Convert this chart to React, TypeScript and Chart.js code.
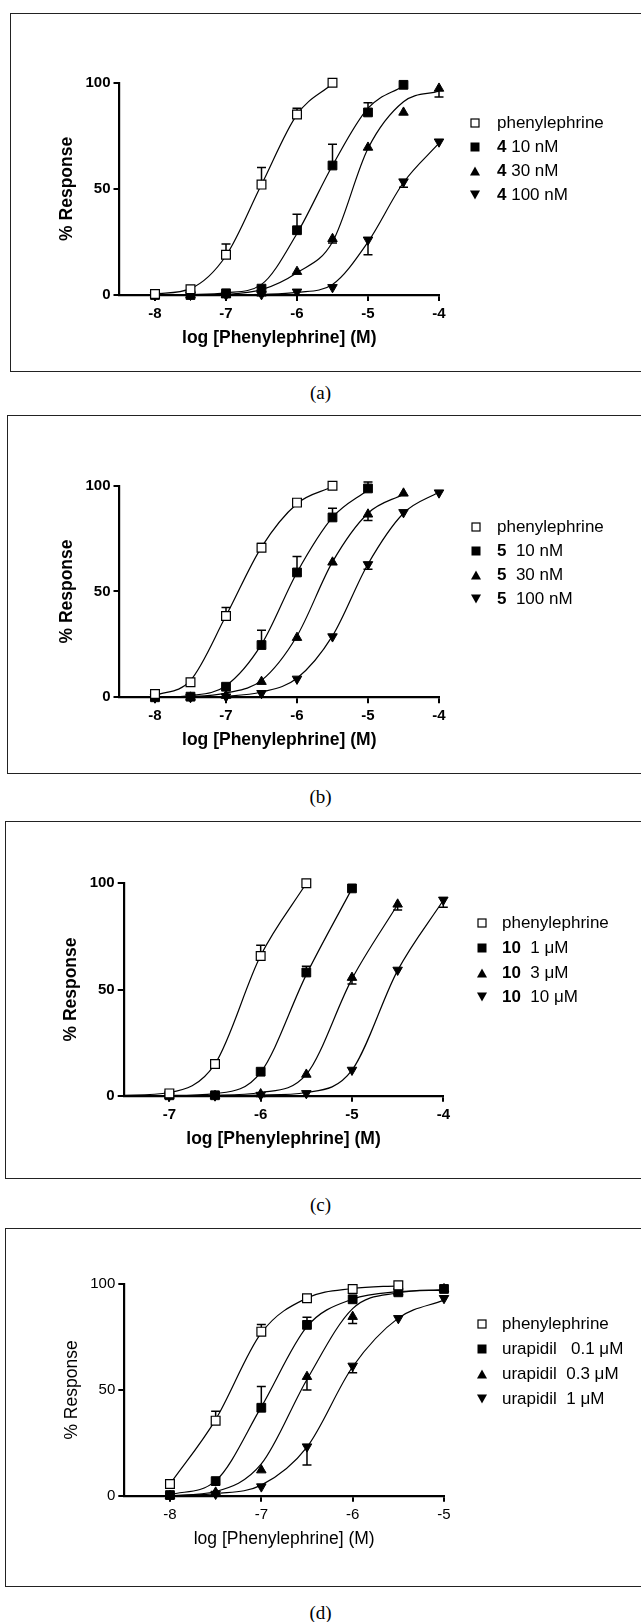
import React, { useEffect, useRef } from "react";
import { Chart, registerables } from "chart.js";

Chart.register(...registerables);

// ---------------- DATA ----------------
const yTicks = [0, 50, 100];
const yTitle = "% Response";
const xTitle = "log [Phenylephrine] (M)";

// Panel (a)
const xA = [-8, -7.5, -7, -6.5, -6, -5.5, -5, -4.5, -4];
const xTicksA = [-8, -7, -6, -5, -4];
const aPhe = [0.5, 2.7, 19, 52, 85, 100, null, null, null];
const aPheErr = [0, 0, 5, 8, 3, 0, null, null, null];
const aPheFit = [0.5, 3, 18.5, 52, 85, 99.5, null, null, null];
const a10 = [0, 0, 0.8, 3, 30.5, 61, 86, 99, null];
const a10Err = [0, 0, 0, 0, 7.5, 10, 4.5, 0, null];
const a10Fit = [0, 0.2, 1, 5, 29, 61, 88, 98.5, null];
const a30 = [0, 0, 0, 0.8, 11, 26.5, 69.5, 86, 97.3];
const a30Err = [0, 0, 0, 0, 0, 2, 0, 0, 4];
const a30Fit = [0, 0, 0.3, 2.5, 10.5, 25, 69, 91, 96];
const a100 = [0, 0, 0, 0.3, 1.5, 3.6, 26, 53.4, 72.2];
const a100Err = [0, 0, 0, 0, 0, 0, 7, 2.7, 0];
const a100Fit = [0, 0, 0, 0.3, 1.2, 5, 25, 53, 71.5];
const aLabels = [["", "phenylephrine"], ["4", " 10 nM"], ["4", " 30 nM"], ["4", " 100 nM"]];

// Panel (b)
const xB = [-8, -7.5, -7, -6.5, -6, -5.5, -5, -4.5, -4];
const xTicksB = [-8, -7, -6, -5, -4];
const bPhe = [1.6, 7.1, 38.4, 70.7, 92, 100, null, null, null];
const bPheErr = [0, 0, 4, 2, 0, 0, null, null, null];
const bPheFit = [0.8, 8, 38.5, 71, 91.5, 99.5, null, null, null];
const b10 = [0, 0.3, 5, 24.7, 59, 85, 98.7, null, null];
const b10Err = [0, 0, 0, 7, 7.5, 4.4, 3, null, null];
const b10Fit = [0, 0.8, 5.5, 25, 59, 85, 98, null, null];
const b30 = [0, 0, 0.8, 7.4, 28.2, 63.8, 86.5, 96.4, null];
const b30Err = [0, 0, 0, 0, 0, 0, 3, 0, null];
const b30Fit = [0, 0.3, 2, 8, 29, 64, 87, 96, null];
const b100 = [0, 0, 0.3, 1.9, 8.7, 28.7, 62.8, 87.4, 96.7];
const b100Err = [0, 0, 0, 0, 0, 0, 2.3, 0, 0];
const b100Fit = [0, 0, 0.5, 2.5, 9, 29, 63, 87, 97];
const bLabels = [["", "phenylephrine"], ["5", "  10 nM"], ["5", "  30 nM"], ["5", "  100 nM"]];

// Panel (c)
const xC = [-7.5, -7, -6.5, -6, -5.5, -5, -4.5, -4];
const xTicksC = [-7, -6, -5, -4];
const cPhe = [null, 1.1, 14.9, 65.8, 100, null, null, null];
const cPheErr = [null, 0, 0, 5, 0, null, null, null];
const cPheFit = [0.2, 1.5, 15, 66, 100, null, null, null];
const c1 = [null, 0.2, 0.2, 11.3, 58, 97.6, null, null];
const c1Err = [null, 0, 0, 0, 3, 0, null, null];
const c1Fit = [0, 0.1, 1, 11, 57, 97.5, null, null];
const c3 = [null, 0, 0, 0.8, 10, 55.6, 90.1, null];
const c3Err = [null, 0, 0, 0, 0, 3, 2.7, null];
const c3Fit = [0, 0, 0.2, 1.5, 10, 55, 90, null];
const c10 = [null, 0, 0, 0.3, 1.1, 12.1, 59.2, 92.2];
const c10Err = [null, 0, 0, 0, 0, 0, 0, 3.5];
const c10Fit = [0, 0, 0, 0.3, 1.5, 12, 59, 92];
const cLabels = [["", "phenylephrine"], ["10", "  1 μM"], ["10", "  3 μM"], ["10", "  10 μM"]];

// Panel (d)
const xD = [-8, -7.5, -7, -6.5, -6, -5.5, -5];
const xTicksD = [-8, -7, -6, -5];
const dPhe = [5.5, 35.5, 77.6, 93.4, 97.8, 99.5, null];
const dPheErr = [0, 4.5, 3.4, 0, 0, 0, null];
const dPheFit = [5.5, 36, 77, 93.5, 98, 99.3, null];
const d01 = [0.3, 6.9, 41.6, 80.8, 92.9, 96.2, 97.8];
const d01Err = [0, 0, 10, 3.6, 0, 0, 0];
const d01Fit = [0.5, 7, 42, 80, 93, 96.5, 97.2];
const d03 = [0, 1.6, 12.1, 56.3, 84.7, 96.2, 97.8];
const d03Err = [0, 0, 0, 6.3, 3.2, 0, 0];
const d03Fit = [0, 2, 15, 55, 88.5, 96, 97.5];
const d1 = [0, 0.8, 4.3, 23.2, 61.4, 83.9, 93.4];
const d1Err = [0, 0, 0, 8.7, 3.2, 0, 0];
const d1Fit = [0, 1, 5, 23, 61, 84, 92.5];
const dLabels = [["", "phenylephrine"], ["", "urapidil   0.1 μM"], ["", "urapidil  0.3 μM"], ["", "urapidil  1 μM"]];

// ---------------- STYLE / LAYOUT ----------------
const FAMILY = '"Liberation Sans", Arial, Helvetica, sans-serif';
const STYLES = [
  { shape: "rect", r: 6.2, rot: 0, fill: "#ffffff", bw: 1.2, dir: 1 },
  { shape: "rect", r: 6.2, rot: 0, fill: "#000000", bw: 1, dir: 1 },
  { shape: "triangle", r: 5.5, rot: 0, fill: "#000000", bw: 1, dir: -1 },
  { shape: "triangle", r: 5.5, rot: 180, fill: "#000000", bw: 1, dir: -1 },
];

const PANELS = [
  {
    caption: "(a)", capY: 393, bold: true,
    frame: { left: 10, top: 13, height: 359 },
    area: { L: 119.5, R: 439, T: 82.7, B: 295 },
    legend: { mx: 475, tx: 497, y0: 122.7, dy: 24.2 },
    xMin: -8.5, xMax: -4, x: xA, xTicks: xTicksA, labels: aLabels,
    series: [
      { mean: aPhe, err: aPheErr, fit: aPheFit },
      { mean: a10, err: a10Err, fit: a10Fit },
      { mean: a30, err: a30Err, fit: a30Fit },
      { mean: a100, err: a100Err, fit: a100Fit },
    ],
  },
  {
    caption: "(b)", capY: 797, bold: true,
    frame: { left: 7, top: 415, height: 359 },
    area: { L: 119.5, R: 439, T: 485.7, B: 697.3 },
    legend: { mx: 476, tx: 497, y0: 526.7, dy: 24.2 },
    xMin: -8.5, xMax: -4, x: xB, xTicks: xTicksB, labels: bLabels,
    series: [
      { mean: bPhe, err: bPheErr, fit: bPheFit },
      { mean: b10, err: b10Err, fit: b10Fit },
      { mean: b30, err: b30Err, fit: b30Fit },
      { mean: b100, err: b100Err, fit: b100Fit },
    ],
  },
  {
    caption: "(c)", capY: 1205, bold: true,
    frame: { left: 5, top: 821, height: 358 },
    area: { L: 123.7, R: 443.3, T: 883.3, B: 1095.7 },
    legend: { mx: 481.5, tx: 502, y0: 922.7, dy: 24.9 },
    xMin: -7.5, xMax: -4, x: xC, xTicks: xTicksC, labels: cLabels,
    series: [
      { mean: cPhe, err: cPheErr, fit: cPheFit },
      { mean: c1, err: c1Err, fit: c1Fit },
      { mean: c3, err: c3Err, fit: c3Fit },
      { mean: c10, err: c10Err, fit: c10Fit },
    ],
  },
  {
    caption: "(d)", capY: 1612.7, bold: false,
    frame: { left: 5, top: 1228, height: 359 },
    area: { L: 124.3, R: 444, T: 1284.3, B: 1495.7 },
    legend: { mx: 481.5, tx: 502, y0: 1324.3, dy: 25 },
    xMin: -8.5, xMax: -5, x: xD, xTicks: xTicksD, labels: dLabels,
    series: [
      { mean: dPhe, err: dPheErr, fit: dPheFit },
      { mean: d01, err: d01Err, fit: d01Fit },
      { mean: d03, err: d03Err, fit: d03Fit },
      { mean: d1, err: d1Err, fit: d1Fit },
    ],
  },
];

const errorBars = {
  id: "errorBars",
  beforeDatasetsDraw(chart: any) {
    const ctx = chart.ctx;
    const ys = chart.scales.y;
    chart.data.datasets.forEach((ds: any, i: number) => {
      if (!ds.isPoints) return;
      const meta = chart.getDatasetMeta(i);
      meta.data.forEach((pt: any, j: number) => {
        const d = ds.data[j];
        if (!d || !d.e) return;
        const y1 = ys.getPixelForValue(d.y + ds.errDir * d.e);
        ctx.save();
        ctx.strokeStyle = "#000";
        ctx.lineWidth = 1.5;
        ctx.beginPath();
        ctx.moveTo(pt.x, pt.y);
        ctx.lineTo(pt.x, y1);
        ctx.moveTo(pt.x - 4.5, y1);
        ctx.lineTo(pt.x + 4.5, y1);
        ctx.stroke();
        ctx.restore();
      });
    });
  },
};

const W_AXIS = 80;
const H_AXIS = 60;

function Panel({ spec }: { spec: any }) {
  const ref = useRef<HTMLCanvasElement | null>(null);
  const FH = spec.frame.height;
  const FT = spec.frame.top;

  useEffect(() => {
    const canvas = ref.current;
    if (!canvas) return;
    const { L, R, T, B } = spec.area;
    const weight = spec.bold ? "bold" : "normal";
    const tickFont = { family: FAMILY, size: 15, weight };
    const titleFont = { family: FAMILY, size: 17.5, weight, lineHeight: 1.2 };
    const lh = 17.5 * 1.2;

    const datasets: any[] = [];
    spec.series.forEach((s: any, i: number) => {
      const st = STYLES[i];
      const pts: any[] = [];
      const curve: any[] = [];
      spec.x.forEach((xv: number, j: number) => {
        if (s.mean[j] != null) pts.push({ x: xv, y: s.mean[j], e: s.err[j] || 0 });
        if (s.fit[j] != null) curve.push({ x: xv, y: s.fit[j] });
      });
      datasets.push({
        type: "line",
        data: curve,
        borderColor: "#000",
        borderWidth: 1.2,
        pointRadius: 0,
        cubicInterpolationMode: "monotone",
        fill: false,
        clip: false,
        order: 2,
      });
      datasets.push({
        type: "scatter",
        data: pts,
        pointStyle: st.shape,
        pointRadius: st.r,
        pointRotation: st.rot,
        backgroundColor: st.fill,
        pointBackgroundColor: st.fill,
        borderColor: "#000",
        pointBorderColor: "#000",
        borderWidth: st.bw,
        pointBorderWidth: st.bw,
        clip: false,
        order: 1,
        isPoints: true,
        errDir: st.dir,
      });
    });

    const chart = new Chart(canvas, {
      type: "scatter",
      data: { datasets },
      plugins: [errorBars],
      options: {
        animation: false,
        responsive: false,
        maintainAspectRatio: false,
        devicePixelRatio: 1,
        events: [],
        layout: {
          autoPadding: false,
          padding: {
            left: L - W_AXIS,
            right: 641 - R,
            top: T - FT,
            bottom: FH - (B - FT) - H_AXIS,
          },
        },
        plugins: { legend: { display: false }, tooltip: { enabled: false } },
        scales: {
          x: {
            type: "linear",
            position: "bottom",
            min: spec.xMin,
            max: spec.xMax,
            afterBuildTicks: (sc: any) => {
              sc.ticks = spec.xTicks.map((v: number) => ({ value: v }));
            },
            afterFit: (sc: any) => {
              sc.height = H_AXIS;
            },
            grid: {
              display: true,
              drawOnChartArea: false,
              drawTicks: true,
              tickLength: 6,
              tickWidth: 2,
              tickColor: "#000",
              color: "#000",
              lineWidth: 2,
            },
            border: { display: true, color: "#000", width: 2.2 },
            ticks: {
              color: "#000",
              font: tickFont,
              padding: 4,
              maxRotation: 0,
              minRotation: 0,
              autoSkip: false,
              callback: (v: any) => String(v),
            },
            title: {
              display: true,
              text: xTitle,
              color: "#000",
              font: titleFont,
              padding: { top: 0, bottom: H_AXIS - 43 - lh / 2 },
            },
          },
          y: {
            type: "linear",
            position: "left",
            min: 0,
            max: 100,
            afterBuildTicks: (sc: any) => {
              sc.ticks = yTicks.map((v: number) => ({ value: v }));
            },
            afterFit: (sc: any) => {
              sc.width = W_AXIS;
            },
            grid: {
              display: true,
              drawOnChartArea: false,
              drawTicks: true,
              tickLength: 6,
              tickWidth: 2,
              tickColor: "#000",
              color: "#000",
              lineWidth: 2,
            },
            border: { display: true, color: "#000", width: 2.2 },
            ticks: {
              color: "#000",
              font: tickFont,
              padding: 3,
              autoSkip: false,
              callback: (v: any) => String(v),
            },
            title: {
              display: true,
              text: yTitle,
              color: "#000",
              font: titleFont,
              padding: { top: W_AXIS - 52.5 - lh / 2, bottom: 0 },
            },
          },
        },
      } as any,
    });
    return () => chart.destroy();
  }, [spec]);

  const legendFont = 17;
  return (
    <>
      <div
        style={{
          position: "absolute",
          left: spec.frame.left,
          top: FT,
          width: 700,
          height: FH,
          border: "1px solid #222",
          boxSizing: "border-box",
        }}
      />
      <canvas
        ref={ref}
        width={641}
        height={FH}
        style={{ position: "absolute", left: 0, top: FT, width: 641, height: FH, display: "block" }}
      />
      {spec.labels.map((lab: string[], i: number) => {
        const cy = spec.legend.y0 + i * spec.legend.dy;
        const mx = spec.legend.mx;
        let marker;
        if (i === 0) marker = <rect x={1} y={1} width={8} height={8} fill="#fff" stroke="#000" strokeWidth={1.2} />;
        else if (i === 1) marker = <rect x={0.5} y={0.5} width={9} height={9} fill="#000" />;
        else if (i === 2) marker = <polygon points="0,9.5 5,0.5 10,9.5" fill="#000" />;
        else marker = <polygon points="0,0.5 10,0.5 5,9.5" fill="#000" />;
        return (
          <React.Fragment key={i}>
            <svg
              width={10}
              height={10}
              style={{ position: "absolute", left: mx - 5, top: cy - 5 }}
            >
              {marker}
            </svg>
            <div
              style={{
                position: "absolute",
                left: spec.legend.tx,
                top: cy - 11,
                height: 22,
                lineHeight: "22px",
                fontFamily: FAMILY,
                fontSize: legendFont,
                whiteSpace: "pre",
                color: "#000",
              }}
            >
              {lab[0] ? <span style={{ fontWeight: "bold" }}>{lab[0]}</span> : null}
              <span>{lab[1]}</span>
            </div>
          </React.Fragment>
        );
      })}
      <div
        style={{
          position: "absolute",
          left: 0,
          width: 641,
          top: spec.capY - 12,
          height: 24,
          lineHeight: "24px",
          textAlign: "center",
          fontFamily: '"Liberation Serif", "Times New Roman", serif',
          fontSize: 19,
          color: "#000",
        }}
      >
        {spec.caption}
      </div>
    </>
  );
}

export default function App() {
  return (
    <div
      style={{
        position: "absolute",
        left: 0,
        top: 0,
        width: 641,
        height: 1622,
        overflow: "hidden",
        background: "#fff",
      }}
    >
      {PANELS.map((p, i) => (
        <Panel key={i} spec={p} />
      ))}
    </div>
  );
}
